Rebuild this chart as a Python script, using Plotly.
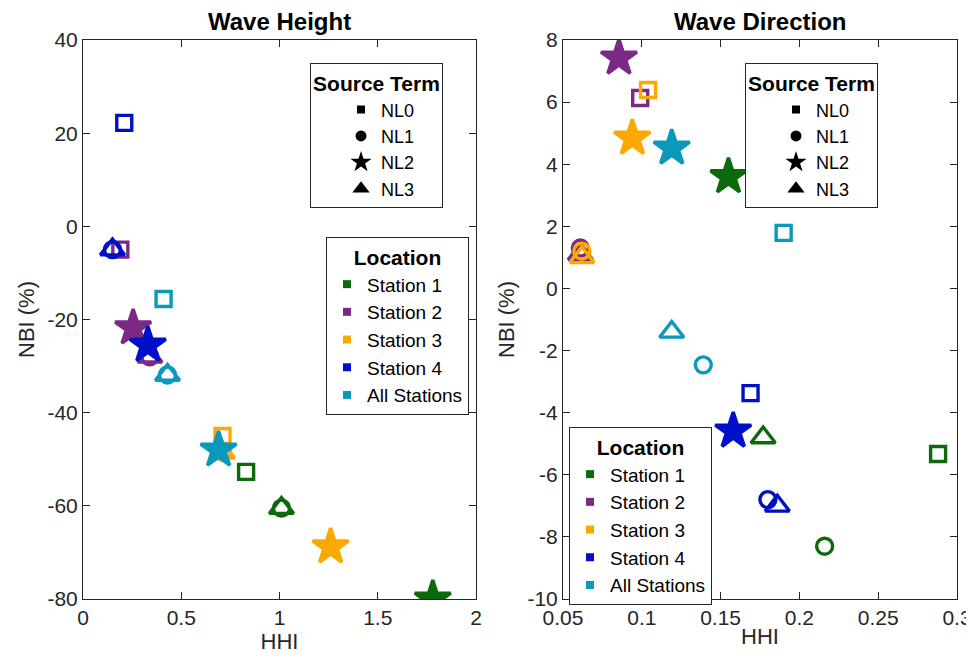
import plotly.graph_objects as go

# ---------------- data ----------------
locations = ["Station 1", "Station 2", "Station 3", "Station 4", "All Stations"]
colors = ["#0b6a0b", "#7a2a85", "#fba900", "#0010c8", "#0a98bd"]
source_terms = ["NL0", "NL1", "NL2", "NL3"]

# Wave Height: HHI and NBI (%) for NL0, NL1, NL2, NL3 per location
wh_hhi = {
    "Station 1": [0.83, 1.01, 1.78, 1.01],
    "Station 2": [0.19, 0.34, 0.255, 0.34],
    "Station 3": [0.71, 0.71, 1.26, 0.71],
    "Station 4": [0.21, 0.15, 0.33, 0.15],
    "All Stations": [0.41, 0.43, 0.69, 0.43],
}
wh_nbi = {
    "Station 1": [-52.7, -60.5, -80.0, -60.5],
    "Station 2": [-5.0, -28.0, -21.8, -28.0],
    "Station 3": [-45.0, -48.5, -68.8, -48.6],
    "Station 4": [22.2, -5.0, -25.5, -5.0],
    "All Stations": [-15.6, -31.9, -48.0, -31.9],
}

# Wave Direction
wd_hhi = {
    "Station 1": [0.288, 0.216, 0.155, 0.177],
    "Station 2": [0.099, 0.061, 0.0855, 0.061],
    "Station 3": [0.104, 0.062, 0.094, 0.062],
    "Station 4": [0.169, 0.180, 0.158, 0.186],
    "All Stations": [0.190, 0.139, 0.119, 0.119],
}
wd_nbi = {
    "Station 1": [-5.33, -8.3, 3.6, -4.8],
    "Station 2": [6.13, 1.3, 7.42, 1.1],
    "Station 3": [6.39, 1.2, 4.84, 1.0],
    "Station 4": [-3.37, -6.8, -4.59, -7.0],
    "All Stations": [1.79, -2.46, 4.52, -1.4],
}

wh_xticks = [0, 0.5, 1, 1.5, 2]
wh_yticks = [-80, -60, -40, -20, 0, 20, 40]
wd_xticks = [0.05, 0.1, 0.15, 0.2, 0.25, 0.3]
wd_yticks = [-10, -8, -6, -4, -2, 0, 2, 4, 6, 8]

# ---------------- styling ----------------
FONT = "Liberation Sans, Arial, sans-serif"
AX = "#262626"
symbols = ["square-open", "circle-open", "star", "triangle-up-open"]
sizes = [15, 16, 27, 21]
legend_symbols = ["square", "circle", "star", "triangle-up"]
legend_sizes = [8, 11, 22, 15]

fig = go.Figure()

for (hx, hy, xa, ya) in [(wh_hhi, wh_nbi, "x", "y"), (wd_hhi, wd_nbi, "x2", "y2")]:
    for loc, col in zip(locations, colors):
        fig.add_trace(go.Scatter(
            x=hx[loc], y=hy[loc], mode="markers", xaxis=xa, yaxis=ya,
            showlegend=False, hoverinfo="skip",
            marker=dict(symbol=symbols, size=sizes, color=col, opacity=1,
                        line=dict(width=3.4, color=col)),
        ))

# legends (dummy entries)
for lg in ["legend", "legend3"]:
    for st, sym, sz in zip(source_terms, legend_symbols, legend_sizes):
        fig.add_trace(go.Scatter(
            x=[None], y=[None], mode="markers", name=st, legend=lg,
            marker=dict(symbol=sym, size=sz, color="black", opacity=1),
        ))
for lg in ["legend2", "legend4"]:
    for loc, col in zip(locations, colors):
        fig.add_trace(go.Scatter(
            x=[None], y=[None], mode="markers", name=loc, legend=lg,
            marker=dict(symbol="square", size=8, color=col, opacity=1),
        ))

OFF = 8  # page body margin
W, H = 974 - OFF, 665 - OFF
L, R, T, B = 83 - OFF, 957 - OFF, 40 - OFF, 599 - OFF
PW, PH = R - L, B - T
def fx(v):
    return (v - OFF - L) / PW
def fy(v):
    return 1 - (v - OFF - T) / PH

axis_common = dict(showline=True, mirror="allticks", linecolor=AX, linewidth=1,
                   ticks="inside", ticklen=7, tickcolor=AX, showgrid=False,
                   zeroline=False, automargin=False,
                   tickfont=dict(family=FONT, size=21, color=AX),
                   title_font=dict(family=FONT, size=22, color=AX))

def leg(fs, **kw):
    return dict(bgcolor="white", bordercolor=AX, borderwidth=1,
                font=dict(family=FONT, size=fs, color="black"),
                xanchor="left", yanchor="top", itemsizing="trace",
                title=dict(font=dict(family=FONT, size=21, color="black"), side="top center"), **kw)

fig.update_layout(
    width=W, height=H, margin=dict(l=L, r=W - R, t=T, b=H - B, autoexpand=False),
    paper_bgcolor="white", plot_bgcolor="white",
    xaxis=dict(domain=[0, fx(476)], range=[0, 2], tickvals=wh_xticks,
               ticktext=[f"{v:g}" for v in wh_xticks], title=dict(text="HHI", standoff=0),
               anchor="y", **axis_common),
    yaxis=dict(domain=[0, 1], range=[-80, 40], tickvals=wh_yticks,
               ticktext=[f"{v:g}" for v in wh_yticks], title=dict(text="NBI (%)", standoff=6),
               anchor="x", **axis_common),
    xaxis2=dict(domain=[fx(563), 1], range=[0.05, 0.3], tickvals=wd_xticks,
                ticktext=[f"{v:g}" for v in wd_xticks], title=dict(text="HHI", standoff=0),
                anchor="y2", **axis_common),
    yaxis2=dict(domain=[0, 1], range=[-10, 8], tickvals=wd_yticks,
                ticktext=[f"{v:g}" for v in wd_yticks], title=dict(text="NBI (%)", standoff=6),
                anchor="x2", **axis_common),
    legend=leg(18, x=fx(310), y=fy(63), title_text="<b>Source Term</b>", indentation=30),
    legend2=leg(19, x=fx(326), y=fy(237), title_text="<b>Location</b>"),
    legend3=leg(18, x=fx(745), y=fy(63), title_text="<b>Source Term</b>", indentation=30),
    legend4=leg(19, x=fx(569), y=fy(427), title_text="<b>Location</b>"),
    annotations=[
        dict(text="<b>Wave Height</b>", x=(fx(83) + fx(476)) / 2, y=fy(21), xref="paper", yref="paper",
             showarrow=False, font=dict(family=FONT, size=24, color="black"), xanchor="center", yanchor="middle"),
        dict(text="<b>Wave Direction</b>", x=(fx(563) + fx(957)) / 2, y=fy(21), xref="paper", yref="paper",
             showarrow=False, font=dict(family=FONT, size=24, color="black"), xanchor="center", yanchor="middle"),
    ],
    shapes=[
        dict(type="line", xref="paper", yref="paper", x0=fx(310), x1=fx(442), y0=fy(94), y1=fy(94),
             line=dict(color=AX, width=1)),
        dict(type="line", xref="paper", yref="paper", x0=fx(326), x1=fx(468), y0=fy(268), y1=fy(268),
             line=dict(color=AX, width=1)),
        dict(type="line", xref="paper", yref="paper", x0=fx(745), x1=fx(877), y0=fy(94), y1=fy(94),
             line=dict(color=AX, width=1)),
        dict(type="line", xref="paper", yref="paper", x0=fx(569), x1=fx(711), y0=fy(458), y1=fy(458),
             line=dict(color=AX, width=1)),
    ],
)

fig.write_html("out.html")
